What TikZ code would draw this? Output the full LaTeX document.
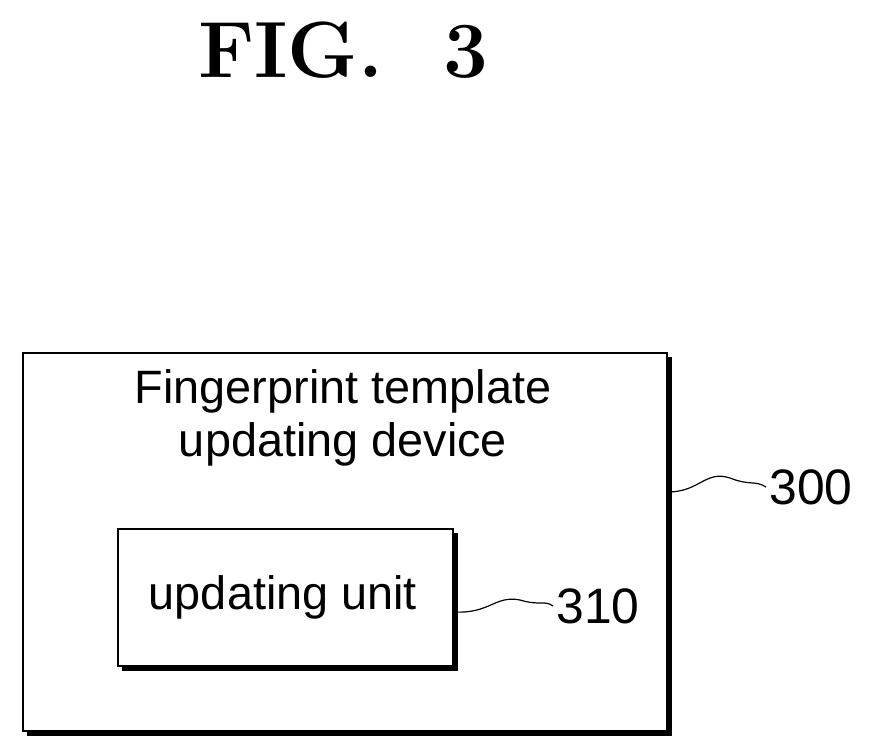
\documentclass[tikz,border=0pt]{standalone}
\usepackage{fontspec}
\setsansfont{Liberation Sans}
\begin{document}
\begin{tikzpicture}[x=1bp,y=-1bp,
  box/.style={draw=black,line width=1.6bp,fill=white},
  shadow/.style={fill=black},
  lbl/.style={font=\sffamily\fontsize{47}{55}\selectfont},
  num/.style={font=\sffamily\fontsize{50}{55}\selectfont},
  wave/.style={line width=1.2bp}]
\useasboundingbox (0,0) rectangle (872,755);
\node[font=\bfseries\fontsize{80}{90}\selectfont] (title) at (343,50) {FIG.\ \ 3};
\fill[shadow] (27,357) rectangle (672,736);
\node[box,minimum width=644bp,minimum height=378bp,anchor=north west,inner sep=0] (outer) at (22,352) {};
\node[lbl,align=center] (otext) at (343,418) {Fingerprint template\\[-2bp]updating device};
\fill[shadow] (122,533) rectangle (458,671);
\node[box,minimum width=335bp,minimum height=137bp,anchor=north west,inner sep=0] (inner) at (117,528) {};
\node[lbl] (itext) at (283,597) {updating unit};
\node[num,anchor=west] (l300) at (766,487) {300};
\node[num,anchor=west] (l310) at (553,606) {310};
\draw[wave] (outer.east|-0,492) .. controls (700,492) and (705,470) .. (730,478) .. controls (750,486) and (755,480) .. (l300.west);
\draw[wave] (inner.east|-0,612) .. controls (490,614) and (495,595) .. (520,600) .. controls (540,606) and (545,600) .. (l310.west);
\end{tikzpicture}
\end{document}
